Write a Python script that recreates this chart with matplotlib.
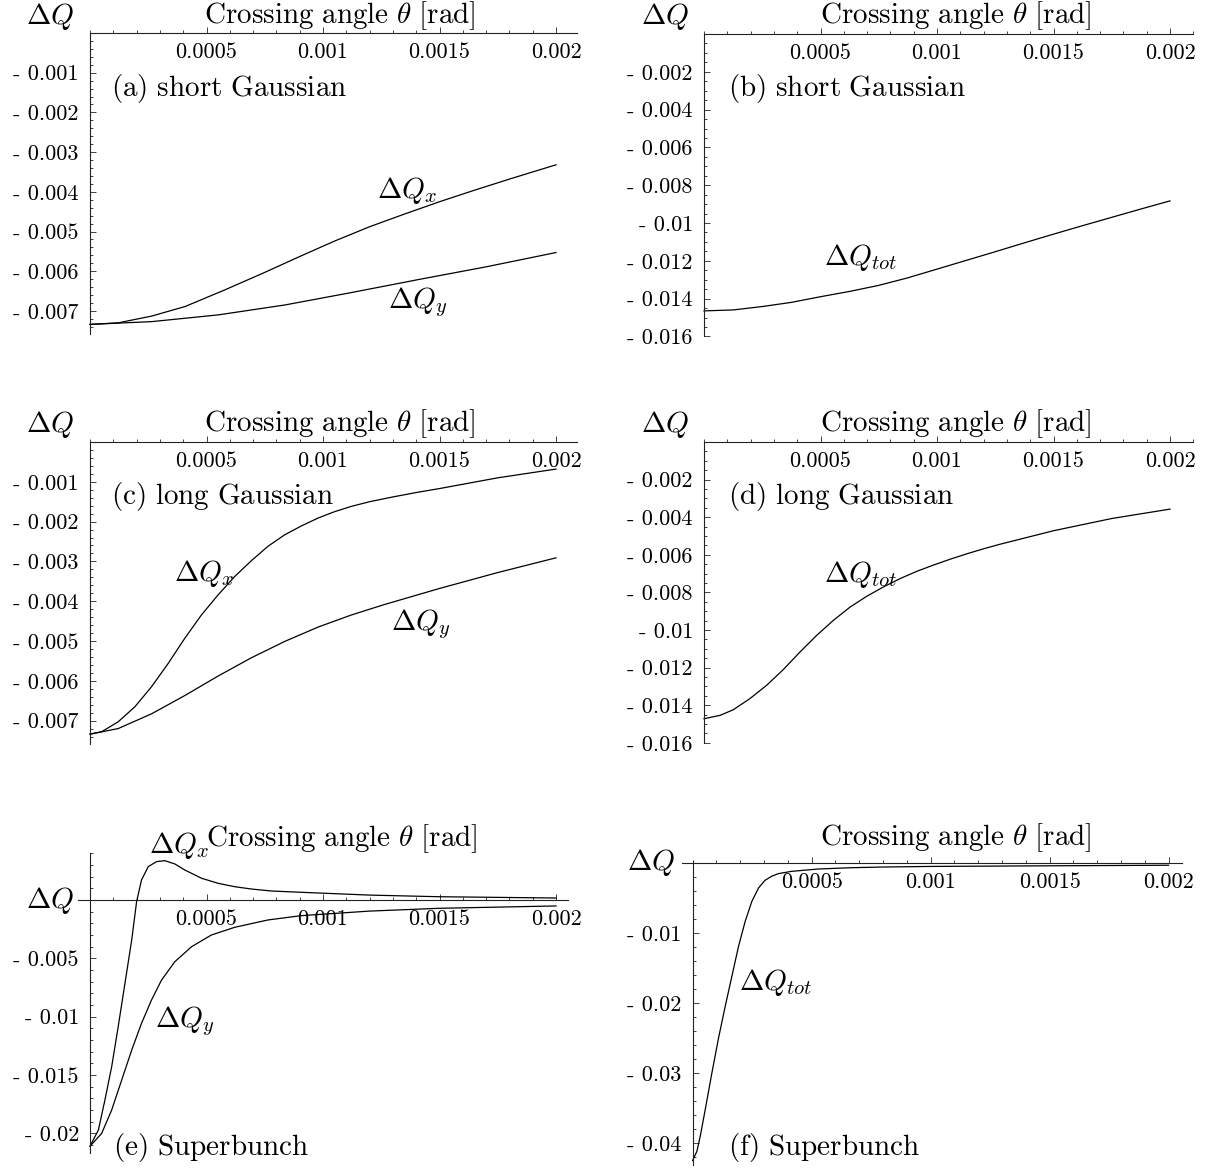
import numpy as np
import matplotlib
matplotlib.use("Agg")
import matplotlib.pyplot as plt
from matplotlib.ticker import MultipleLocator

plt.rcParams['mathtext.fontset'] = 'cm'
plt.rcParams['font.family'] = ['DejaVu Serif']
plt.rcParams['axes.unicode_minus'] = False

# ---- values (theta in rad) ----
# (a) short Gaussian
th_ax = [0, 0.000122, 0.000265, 0.000408, 0.000579, 0.00075, 0.0009, 0.00105,
         0.0012, 0.00135, 0.0015, 0.00165, 0.0018, 0.002]
dqx_a = [-0.00734, -0.0073, -0.00713, -0.00689, -0.00647, -0.00603, -0.00563,
         -0.00524, -0.00488, -0.00456, -0.00425, -0.00396, -0.00368, -0.00332]
th_ay = [0, 0.000265, 0.000551, 0.000837, 0.00112, 0.00141, 0.0017, 0.002]
dqy_a = [-0.00734, -0.00727, -0.0071, -0.00685, -0.00654, -0.00621, -0.00589,
         -0.00553]

# (b) short Gaussian, total
th_b = [0, 0.000125, 0.00025, 0.000375, 0.0005, 0.000625, 0.00075, 0.000875, 0.001,
        0.001125, 0.00125, 0.001375, 0.0015, 0.001625, 0.00175, 0.001875, 0.002]
dqt_b = [-0.01465, -0.0146, -0.01442, -0.0142, -0.0139, -0.01362, -0.0133, -0.0129,
         -0.01244, -0.01198, -0.01152, -0.01105, -0.01059, -0.01014, -0.0097,
         -0.00926, -0.00883]

# (c) long Gaussian
th_cx = [0, 0.00005, 0.000121, 0.000193, 0.000264, 0.000336, 0.000407, 0.000479,
         0.00055, 0.000621, 0.000693, 0.000764, 0.000836, 0.000907, 0.000979,
         0.00105, 0.00112, 0.0012, 0.0013, 0.0014, 0.0015, 0.00175, 0.002]
dqx_c = [-0.00734, -0.00728, -0.00703, -0.00665, -0.00615, -0.00556, -0.00493,
         -0.00434, -0.00384, -0.00338, -0.00298, -0.00262, -0.00233, -0.00211,
         -0.00191, -0.00175, -0.00162, -0.0015, -0.00138, -0.00127, -0.00117,
         -0.0009, -0.00068]
th_cy = [0, 0.000121, 0.000264, 0.000407, 0.00055, 0.000693, 0.000836, 0.000979,
         0.00112, 0.00126, 0.0015, 0.00175, 0.002]
dqy_c = [-0.00734, -0.0072, -0.00683, -0.00637, -0.00588, -0.00542, -0.00501,
         -0.00465, -0.00435, -0.00409, -0.00368, -0.00328, -0.00291]

# (d) long Gaussian, total
th_d = [0, 0.000069, 0.000126, 0.000197, 0.000269, 0.00034, 0.000412, 0.000484,
        0.000555, 0.000627, 0.000698, 0.00077, 0.000841, 0.000913, 0.000984,
        0.00106, 0.00113, 0.0012, 0.00127, 0.0015, 0.00175, 0.002]
dqt_d = [-0.01472, -0.01454, -0.01424, -0.01365, -0.01294, -0.01211, -0.01117,
         -0.01028, -0.00949, -0.00878, -0.00821, -0.00771, -0.00727, -0.00688,
         -0.00655, -0.00622, -0.00594, -0.00568, -0.00544, -0.00472, -0.00407,
         -0.00357]

# (e) superbunch
th_ex = [0, 0.000036, 0.000064, 0.000093, 0.000121, 0.00015, 0.000179, 0.0002,
         0.000221, 0.00025, 0.000286, 0.000321, 0.000364, 0.000407, 0.000479,
         0.00055, 0.000621, 0.000693, 0.000779, 0.000907, 0.0012, 0.0015, 0.002]
dqx_e = [-0.0211, -0.01971, -0.01714, -0.01429, -0.01086, -0.00714, -0.00343,
         -0.00014, 0.00171, 0.00286, 0.00329, 0.00337, 0.00309, 0.00257, 0.00186,
         0.00143, 0.00114, 0.00094, 0.00077, 0.00066, 0.00042, 0.00028, 0.00017]
th_ey = [0, 0.00005, 0.000093, 0.000136, 0.000179, 0.000221, 0.000264, 0.000307,
         0.000364, 0.000436, 0.000521, 0.000621, 0.000764, 0.000907, 0.0012,
         0.0015, 0.002]
dqy_e = [-0.0211, -0.02, -0.018, -0.01543, -0.01286, -0.01057, -0.00857, -0.00686,
         -0.00529, -0.004, -0.003, -0.00234, -0.00171, -0.00134, -0.00095,
         -0.00071, -0.00051]

# (f) superbunch, total
th_f = [0, 0.000018, 0.000032, 0.000053, 0.000081, 0.000109, 0.000137, 0.000165,
        0.000193, 0.000221, 0.000249, 0.000277, 0.000304, 0.000332, 0.00036,
        0.000416, 0.000528, 0.000668, 0.000807, 0.001, 0.0015, 0.002]
dqt_f = [-0.0425, -0.04119, -0.03905, -0.03524, -0.03, -0.025, -0.02048, -0.01619,
         -0.0119, -0.00833, -0.00548, -0.00357, -0.00248, -0.0019, -0.00152,
         -0.00119, -0.00086, -0.00067, -0.00057, -0.00049, -0.0004, -0.00032]

x_major = [0.0005, 0.001, 0.0015, 0.002]
y_ticks_small = [-0.001, -0.002, -0.003, -0.004, -0.005, -0.006, -0.007]
y_ticks_tot = [-0.002, -0.004, -0.006, -0.008, -0.01, -0.012, -0.014, -0.016]
y_ticks_e = [-0.005, -0.01, -0.015, -0.02]
y_ticks_f = [-0.01, -0.02, -0.03, -0.04]

W, H = 1210, 1168
fig = plt.figure(figsize=(W / 100, H / 100), dpi=100)

TICK_FS = 16
TXT_FS = 21
AX_COL = '#222222'


def tick_text(v):
    # Mathematica style: short dash, a space, then the number
    return f"- {abs(v):g}" if v < 0 else f"{v:g}"


def panel(x0, y0, sx, sy, xlim, ylim, yticks, yminor):
    # x0, y0: pixel of the origin; sx, sy: pixels per 0.001
    left = x0 + xlim[0] * sx * 1000
    right = x0 + xlim[1] * sx * 1000
    top = y0 - ylim[1] * sy * 1000
    bottom = y0 - ylim[0] * sy * 1000
    ax = fig.add_axes([left / W, 1 - bottom / H, (right - left) / W, (bottom - top) / H])
    ax.set_xlim(xlim)
    ax.set_ylim(ylim)
    for s in ['top', 'right']:
        ax.spines[s].set_visible(False)
    for s in ['left', 'bottom']:
        ax.spines[s].set_position(('data', 0))
        ax.spines[s].set_linewidth(0.8)
        ax.spines[s].set_color(AX_COL)
    ax.patch.set_alpha(0)
    ax.set_xticks(x_major, labels=[tick_text(v) for v in x_major])
    ax.set_yticks(yticks, labels=[tick_text(v) for v in yticks])
    for t in ax.get_xticklabels() + ax.get_yticklabels():
        t.set_fontfamily('cmr10')
    ax.xaxis.set_minor_locator(MultipleLocator(0.0001))
    ax.yaxis.set_minor_locator(MultipleLocator(yminor))
    ax.tick_params(which='both', direction='in', width=0.6, color=AX_COL,
                   labelsize=TICK_FS)
    ax.tick_params(which='major', length=4)
    ax.tick_params(which='minor', length=2)
    ax.tick_params(axis='x', pad=7)
    ax.tick_params(axis='y', pad=8)
    return ax


def curve(ax, x, y):
    ax.plot(x, y, color='black', lw=0.9, clip_on=False)


def lbl(ax, x, y, s):
    ax.text(x, y, s, fontsize=TXT_FS, ha='left', va='baseline')


def fig_text(x, y, s):
    fig.text(x / W, 1 - y / H, s, fontsize=TXT_FS, ha='center', va='center')


xlab = r"$\mathrm{Crossing\ angle}\ \theta\ [\mathrm{rad}]$"
dq = r"$\Delta Q$"

# (a)
ax = panel(90, 33, 233, 39.7, (0, 0.00209), (-0.00759, 0), y_ticks_small, 0.0002)
curve(ax, th_ax, dqx_a)
curve(ax, th_ay, dqy_a)
lbl(ax, 0.00009, -0.00159, r"$\mathrm{(a)\ short\ Gaussian}$")
lbl(ax, 0.00123, -0.00416, r"$\Delta Q_x$")
lbl(ax, 0.00128, -0.00693, r"$\Delta Q_y$")
fig_text(50, 17, dq)
fig_text(340, 16, xlab)

# (b)
ax = panel(704, 34, 233, 18.9, (0, 0.0021), (-0.016, 0), y_ticks_tot, 0.0005)
curve(ax, th_b, dqt_b)
lbl(ax, 0.000103, -0.00328, r"$\mathrm{(b)\ short\ Gaussian}$")
lbl(ax, 0.000514, -0.01222, r"$\Delta Q_{tot}$")
fig_text(665, 17, dq)
fig_text(956, 16, xlab)

# (c)
ax = panel(90, 442, 233, 39.8, (0, 0.00209), (-0.00759, 0), y_ticks_small, 0.0002)
curve(ax, th_cx, dqx_c)
curve(ax, th_cy, dqy_c)
lbl(ax, 0.00009, -0.00156, r"$\mathrm{(c)\ long\ Gaussian}$")
lbl(ax, 0.00036, -0.0035, r"$\Delta Q_x$")
lbl(ax, 0.00129, -0.00472, r"$\Delta Q_y$")
fig_text(50, 425, dq)
fig_text(340, 424, xlab)

# (d)
ax = panel(704, 442, 233, 18.8, (0, 0.0021), (-0.016, 0), y_ticks_tot, 0.0005)
curve(ax, th_d, dqt_d)
lbl(ax, 0.000103, -0.0033, r"$\mathrm{(d)\ long\ Gaussian}$")
lbl(ax, 0.000514, -0.00743, r"$\Delta Q_{tot}$")
fig_text(665, 425, dq)
fig_text(956, 424, xlab)

# (e)
ax = panel(90, 900, 233, 11.67, (-0.00005, 0.00205), (-0.0217, 0.004), y_ticks_e, 0.001)
curve(ax, th_ex, dqx_e)
curve(ax, th_ey, dqy_e)
lbl(ax, 0.0001, -0.02185, r"$\mathrm{(e)\ Superbunch}$")
lbl(ax, 0.000255, 0.004, r"$\Delta Q_x$")
lbl(ax, 0.00028, -0.01086, r"$\Delta Q_y$")
fig_text(50, 900, dq)
fig_text(342, 839, xlab)

# (f)
ax = panel(692.6, 863, 238, 7.0, (-0.000046, 0.002055), (-0.0432, 0.0003), y_ticks_f, 0.002)
curve(ax, th_f, dqt_f)
lbl(ax, 0.00015, -0.0417, r"$\mathrm{(f)\ Superbunch}$")
lbl(ax, 0.000196, -0.01814, r"$\Delta Q_{tot}$")
fig_text(651, 863, dq)
fig_text(956, 838, xlab)

fig.savefig("out.png", dpi=100)
